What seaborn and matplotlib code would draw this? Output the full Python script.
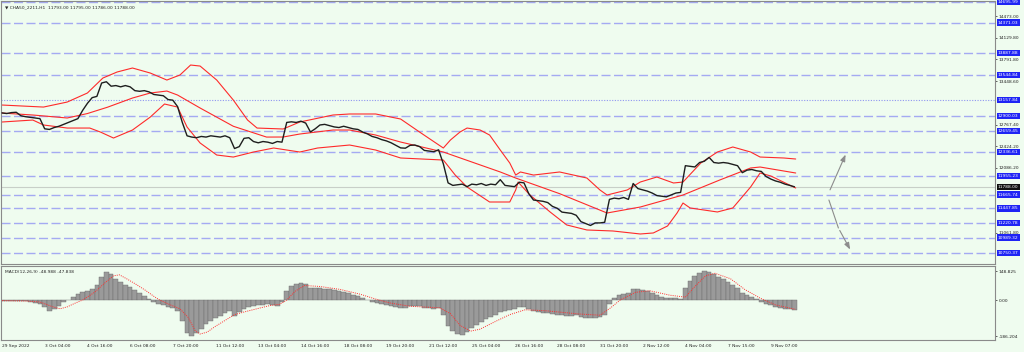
import numpy as np
import matplotlib
matplotlib.use("Agg")
from matplotlib import pyplot as plt
import pandas as pd
import seaborn as sns

# ------------------------------------------------------------
#     data, x = H1 bar number from 29 Sep 2022
# ------------------------------------------------------------

# close, one value every 4 bars
close = [12950, 12940, 12955, 12960, 12905, 12890, 12880, 12870, 12860, 12700,
         12690, 12720, 12740, 12770, 12800, 12830, 12860, 12990, 13100, 13190,
         13210, 13420, 13440, 13370, 13380, 13360, 13380, 13360, 13300, 13290,
         13300, 13280, 13240, 13230, 13220, 13160, 13150, 13050, 12800, 12590,
         12570, 12560, 12580, 12570, 12590, 12580, 12570, 12590, 12560, 12390,
         12420, 12550, 12560, 12500, 12480, 12500, 12490, 12470, 12500, 12490,
         12800, 12810, 12800, 12820, 12790, 12650, 12700, 12760, 12770, 12750,
         12730, 12720, 12740, 12720, 12700, 12690, 12650, 12620, 12580, 12560,
         12530, 12510, 12480, 12440, 12400, 12395, 12440, 12445, 12420, 12360,
         12350, 12340, 12370, 12150, 11850, 11810, 11820, 11830, 11790, 11830,
         11820, 11840, 11810, 11830, 11820, 11900, 11810, 11800, 11790, 11860,
         11850, 11680, 11580, 11570, 11560, 11540, 11480, 11450, 11390, 11380,
         11370, 11340, 11240, 11210, 11180, 11220, 11220, 11230, 11590, 11610,
         11600, 11620, 11590, 11840, 11760, 11740, 11720, 11690, 11650, 11640,
         11630, 11660, 11690, 11700, 12120, 12110, 12100, 12170, 12190, 12250,
         12170, 12160, 12170, 12160, 12140, 12120, 12010, 12050, 12060, 12040,
         12030, 11950, 11910, 11880, 11860, 11830, 11810, 11788]

# MACD main line (histogram), same bars as close
macd = [-4, -4, -5, -4, -5, -6, -10, -17, -20, -38,
        -58, -45, -30, -12, 0, 18, 30, 40, 48, 55,
        80, 120, 146, 132, 110, 92, 78, 67, 52, 35,
        20, 5, -12, -18, -25, -35, -42, -55, -110, -170,
        -186, -172, -150, -125, -110, -95, -80, -68, -58, -80,
        -60, -45, -35, -32, -28, -25, -22, -28, -30, -10,
        45, 70, 82, 88, 85, 60, 62, 60, 58, 55,
        50, 48, 42, 35, 28, 20, 10, 2, -8, -15,
        -20, -25, -30, -38, -42, -40, -32, -30, -33, -40,
        -42, -45, -40, -75, -135, -160, -175, -178, -165, -145,
        -128, -112, -100, -88, -78, -60, -58, -52, -48, -38,
        -35, -45, -58, -62, -65, -68, -72, -75, -78, -80,
        -80, -78, -88, -92, -95, -90, -85, -75, -20, 10,
        25, 32, 35, 58, 58, 52, 45, 35, 25, 18,
        12, 10, 10, 8, 60, 100, 122, 140, 148, 145,
        135, 120, 108, 95, 80, 62, 35, 25, 15, 5,
        -10, -20, -28, -35, -40, -44, -47, -49]

# MACD signal line
sig_bar = [0, 21, 32, 43, 49, 55, 62, 68, 78, 87, 94, 99, 105, 112, 121, 129, 133, 142, 150, 157,
           163, 167, 173, 180, 188, 196, 205, 218, 226, 234, 240, 247, 255, 268, 285, 302, 315, 327, 344, 369,
           378, 386, 395, 403, 416, 428, 441, 458, 487, 504, 513, 521, 534, 546, 563, 576, 584, 593, 601, 614,
           626, 639, 652, 669]
sig_val = [-3, -5, -10, -35, -45, -35, -15, 0, 40, 90, 125, 130, 110, 85, 50, 15, 0, -25, -45, -90,
           -160, -175, -165, -135, -105, -75, -60, -40, -28, -22, 0, 45, 75, 70, 55, 30, 5, -15, -32, -40,
           -70, -130, -160, -150, -110, -75, -50, -55, -72, -78, -40, 0, 40, 48, 25, 15, 70, 125, 138, 110,
           55, 10, -25, -48]

# Bollinger bands
upper_bar = [0, 35, 55, 72, 85, 97, 110, 125, 139, 150, 159, 167, 181, 195, 207, 215, 237, 251, 279, 293,
             315, 336, 352, 372, 378, 386, 392, 403, 411, 420, 428, 433, 437, 448, 470, 493, 504, 510, 527, 538,
             552, 566, 574, 589, 603, 616, 631, 639, 659, 669]
upper = [13074, 13042, 13121, 13263, 13498, 13593, 13656, 13577, 13467, 13546,
         13703, 13687, 13467, 13152, 12838, 12712, 12697, 12807, 12917, 12933,
         12933, 12854, 12649, 12398, 12524, 12649, 12712, 12681, 12602, 12366,
         12162, 11973, 12021, 11973, 12021, 11926, 11738, 11659, 11738, 11863,
         11942, 11848, 11863, 12162, 12335, 12414, 12335, 12256, 12241, 12225]
mid_bar = [0, 26, 55, 72, 89, 110, 125, 139, 148, 167, 195, 223, 237, 251, 279, 293, 315, 336, 372, 420,
           433, 470, 510, 538, 574, 605, 631, 639, 669]
mid = [12948, 12917, 12870, 12940, 13040, 13184, 13263, 13294, 13231, 13027,
       12740, 12570, 12571, 12618, 12681, 12681, 12602, 12492, 12335, 12021,
       11926, 11680, 11376, 11470, 11659, 11895, 12084, 12099, 12005]
lower_bar = [0, 26, 35, 55, 74, 83, 94, 110, 125, 137, 148, 156, 167, 181, 195, 212, 229, 251, 266, 293,
             315, 336, 372, 382, 392, 411, 428, 433, 435, 445, 462, 476, 493, 515, 538, 549, 561, 569, 574, 580,
             603, 616, 631, 639, 648, 669]
lower = [12807, 12838, 12760, 12712, 12712, 12649, 12555, 12681, 12885, 13090,
         13042, 12728, 12477, 12288, 12256, 12335, 12398, 12335, 12398, 12445,
         12366, 12241, 12209, 11973, 11785, 11549, 11549, 11738, 11863, 11659,
         11392, 11188, 11109, 11093, 11046, 11062, 11172, 11376, 11533, 11455,
         11392, 11455, 11785, 12005, 11958, 11769]

# horizontal levels drawn on the chart (13157.84 is dotted)
levels = [14695.99, 14371.03, 13887.88, 13544.84, 12900.03, 12659.45, 12336.61,
          11955.23, 11665.74, 11447.85, 11220.78, 10989.32, 10750.37]
dotted_level = 13157.84
last_price = 11788.00
price_ticks = [14473.00, 14129.80, 13791.80, 13448.60, 12767.40, 12424.20, 12086.20, 11061.80]
macd_ticks = [148.825, 0.0, -186.204]
macd_tick_labels = ["148.825", "0.00", "-186.204"]

date_labels = ["29 Sep 2022", "3 Oct 04:00", "4 Oct 16:00", "6 Oct 08:00", "7 Oct 20:00",
               "11 Oct 12:00", "13 Oct 04:00", "14 Oct 16:00", "18 Oct 08:00", "19 Oct 20:00",
               "21 Oct 12:00", "25 Oct 04:00", "26 Oct 16:00", "28 Oct 08:00", "31 Oct 20:00",
               "2 Nov 12:00", "4 Nov 04:00", "7 Nov 15:00", "9 Nov 07:00"]
bars_per_label = 36

title = "CHA50_2211,H1  11793.00 11795.00 11786.00 11788.00"
macd_title = "MACD(12,26,9) -48.988 -47.838"

# ------------------------------------------------------------
#     plot
# ------------------------------------------------------------

bg = "#effcef"
level_col = "#a4aaf2"
fs = 3.2

sns.set_style("white")
plt.rcParams['font.family'] = ['DejaVu Sans']

df = pd.DataFrame({"bar": np.arange(len(close)) * 4, "close": close, "macd": macd})

fig = plt.figure(figsize=(10.24, 3.52), dpi=100, facecolor=bg)
ax = fig.add_axes([0.001, 0.250, 0.9707, 0.747], facecolor=bg)
ax2 = fig.add_axes([0.001, 0.034, 0.9707, 0.210], facecolor=bg)

# levels
for lv in levels:
    ax.axhline(lv, color=level_col, lw=1.0, dashes=(6.5, 2.5), zorder=1)
ax.axhline(dotted_level, color="#8f96f0", lw=0.8, ls=(0, (1, 1.4)), zorder=1)
ax.axhline(last_price, color="#c8cfc8", lw=0.8, zorder=1)

# bands + price
for bx, by in [(upper_bar, upper), (mid_bar, mid), (lower_bar, lower)]:
    sns.lineplot(x=bx, y=by, ax=ax, color="#ff2a2a", lw=0.8, estimator=None, sort=False, zorder=2)
sns.lineplot(data=df, x="bar", y="close", ax=ax, color="#1e1e1e", lw=1.0, estimator=None, zorder=3)

ax.set_xlim(-0.8, 837)
ax.set_ylim(10574, 14709)
ax.set_xlabel("")
ax.set_ylabel("")
ax.set_xticks([])
ax.yaxis.tick_right()
ax.set_yticks(price_ticks)
ax.set_yticklabels(["%.2f" % t for t in price_ticks])
ax.tick_params(axis="y", labelsize=fs, length=1.5, pad=1, width=0.5, colors="#222222")

# level boxes on the price scale
yt = ax.get_yaxis_transform()
for lv in levels + [dotted_level]:
    ax.text(1.003, lv, "%.2f" % lv, transform=yt, fontsize=fs, color="white", va="center", ha="left",
            bbox=dict(boxstyle="square,pad=0.25", fc="#1f24f5", ec="none"))
ax.text(1.003, last_price, "%.2f" % last_price, transform=yt, fontsize=fs, color="white", va="center",
        ha="left", bbox=dict(boxstyle="square,pad=0.25", fc="#111111", ec="none"))

ax.text(0.004, 0.985, "\u25bc " + title, transform=ax.transAxes, fontsize=fs, va="top", ha="left")

# hand drawn arrows at the right
ax.annotate("", xy=(712, 12335), xytext=(697, 11700),
            arrowprops=dict(arrowstyle="-|>,head_length=0.4,head_width=0.15", color="#8c8c8c", lw=0.8))
ax.plot([697, 705], [11580, 11140], color="#8c8c8c", lw=0.8)
ax.annotate("", xy=(716, 10763), xytext=(705, 11140),
            arrowprops=dict(arrowstyle="-|>,head_length=0.4,head_width=0.15", color="#8c8c8c", lw=0.8))

# MACD
ax2.bar(df["bar"], df["macd"], width=4.0, color="#9a9a9a", edgecolor="#6a6a6a", linewidth=0.3, zorder=2)
sns.lineplot(x=sig_bar, y=sig_val, ax=ax2, color="#ff3030", lw=0.7, ls=(0, (1, 1.2)),
             estimator=None, sort=False, zorder=3)
ax2.set_xlim(-0.8, 837)
ax2.set_ylim(-206, 175)
ax2.set_xlabel("")
ax2.set_ylabel("")
ax2.yaxis.tick_right()
ax2.set_yticks(macd_ticks)
ax2.set_yticklabels(macd_tick_labels)
ax2.set_xticks(np.arange(len(date_labels)) * bars_per_label)
ax2.set_xticklabels(date_labels)
for lbl in ax2.get_xticklabels():
    lbl.set_horizontalalignment("left")
ax2.tick_params(axis="both", labelsize=fs, length=1.5, pad=1, width=0.5, colors="#222222")
ax2.text(0.004, 0.95, macd_title, transform=ax2.transAxes, fontsize=fs, va="top", ha="left")

for a in (ax, ax2):
    for s in a.spines.values():
        s.set_color("#8a8a8a")
        s.set_linewidth(0.8)

fig.savefig("out.png", dpi=100, facecolor=bg)
